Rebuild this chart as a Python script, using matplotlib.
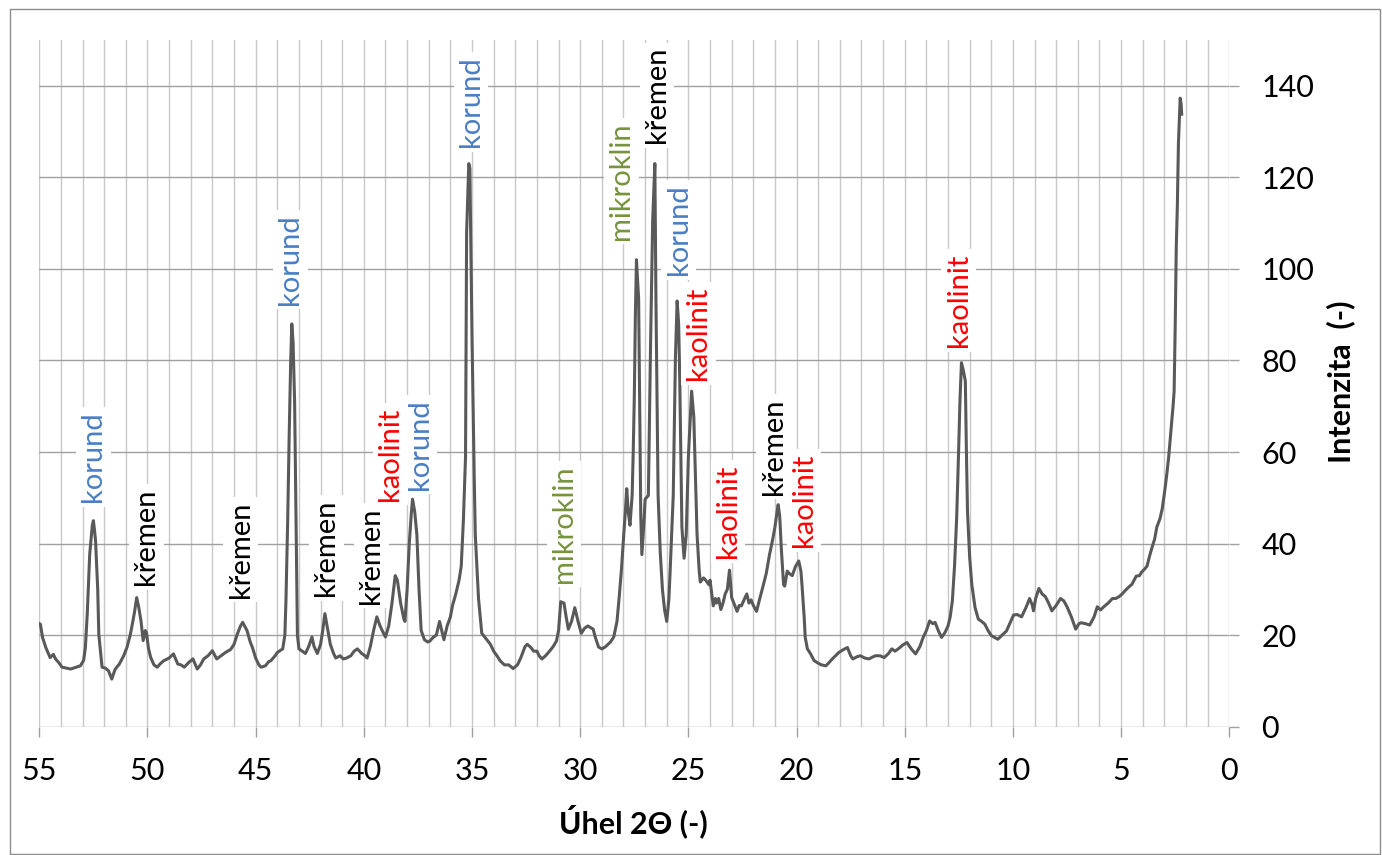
import matplotlib
matplotlib.use("Agg")
import matplotlib.pyplot as plt
from matplotlib.patches import Rectangle
import numpy as np

plt.rcParams['font.family'] = ['Lato', 'DejaVu Sans']

# ---- data: 2-theta (deg) and intensity ----
two_theta = [
    55.0, 54.95, 54.85, 54.7, 54.5, 54.35, 54.25, 54.1, 53.95, 53.75, 53.55, 53.3, 53.1, 52.95, 52.87,
    52.78, 52.67, 52.55, 52.5, 52.45, 52.4, 52.3, 52.25, 52.1, 51.95, 51.8, 51.65, 51.5, 51.3, 51.1,
    50.95, 50.8, 50.7, 50.6, 50.5, 50.4, 50.3, 50.2, 50.1, 50.05, 49.95, 49.85, 49.7, 49.55, 49.4,
    49.25, 49.0, 48.8, 48.6, 48.45, 48.3, 48.1, 47.9, 47.7, 47.55, 47.4, 47.2, 47.0, 46.8, 46.6,
    46.4, 46.15, 46.0, 45.85, 45.7, 45.6, 45.4, 45.25, 45.15, 45.0, 44.85, 44.75, 44.55, 44.4, 44.3,
    44.1, 44.0, 43.75, 43.65, 43.6, 43.52, 43.45, 43.38, 43.33, 43.27, 43.2, 43.12, 43.07, 43.0, 42.85,
    42.7, 42.55, 42.4, 42.3, 42.15, 42.0, 41.9, 41.8, 41.7, 41.55, 41.4, 41.3, 41.1, 40.95, 40.8,
    40.6, 40.45, 40.3, 40.1, 39.95, 39.85, 39.7, 39.55, 39.4, 39.25, 39.1, 39.0, 38.85, 38.7, 38.55,
    38.45, 38.3, 38.15, 38.1, 38.0, 37.9, 37.8, 37.75, 37.65, 37.55, 37.45, 37.35, 37.2, 37.05, 36.95,
    36.8, 36.65, 36.5, 36.4, 36.3, 36.15, 36.0, 35.9, 35.75, 35.6, 35.5, 35.4, 35.3, 35.25, 35.15,
    35.1, 35.0, 34.9, 34.85, 34.7, 34.55, 34.4, 34.15, 34.0, 33.85, 33.7, 33.5, 33.3, 33.1, 32.9,
    32.75, 32.55, 32.45, 32.3, 32.15, 32.0, 31.9, 31.77, 31.6, 31.4, 31.25, 31.1, 31.0, 30.9, 30.75,
    30.65, 30.55, 30.4, 30.25, 30.1, 29.95, 29.8, 29.65, 29.4, 29.3, 29.15, 29.0, 28.85, 28.6, 28.45,
    28.3, 28.2, 28.1, 28.0, 27.9, 27.85, 27.78, 27.7, 27.6, 27.55, 27.5, 27.45, 27.4, 27.3, 27.25,
    27.2, 27.15, 27.05, 27.0, 26.85, 26.75, 26.65, 26.55, 26.5, 26.4, 26.3, 26.2, 26.1, 26.0, 25.9,
    25.85, 25.75, 25.7, 25.6, 25.52, 25.45, 25.4, 25.3, 25.2, 25.1, 25.0, 24.85, 24.75, 24.65, 24.6,
    24.5, 24.45, 24.3, 24.2, 24.05, 24.0, 23.85, 23.75, 23.7, 23.6, 23.5, 23.4, 23.3, 23.2, 23.1,
    23.0, 22.9, 22.75, 22.65, 22.55, 22.4, 22.3, 22.2, 22.1, 22.0, 21.85, 21.7, 21.55, 21.4, 21.25,
    21.1, 21.0, 20.9, 20.85, 20.78, 20.7, 20.6, 20.55, 20.43, 20.35, 20.2, 20.05, 19.9, 19.8, 19.75,
    19.65, 19.6, 19.5, 19.35, 19.2, 19.05, 18.85, 18.65, 18.5, 18.35, 18.2, 18.05, 17.85, 17.65, 17.5,
    17.4, 17.2, 17.05, 16.85, 16.65, 16.5, 16.35, 16.15, 15.95, 15.75, 15.6, 15.45, 15.3, 15.1, 14.9,
    14.7, 14.5, 14.3, 14.15, 14.0, 13.85, 13.7, 13.6, 13.45, 13.3, 13.15, 13.0, 12.9, 12.8, 12.7,
    12.6, 12.5, 12.45, 12.38, 12.3, 12.2, 12.15, 12.1, 12.0, 11.9, 11.75, 11.6, 11.45, 11.3, 11.15,
    11.0, 10.85, 10.7, 10.5, 10.3, 10.15, 9.97, 9.8, 9.6, 9.4, 9.23, 9.1, 9.05, 8.95, 8.8,
    8.65, 8.5, 8.35, 8.2, 8.0, 7.8, 7.65, 7.5, 7.3, 7.1, 6.95, 6.85, 6.65, 6.45, 6.25,
    6.1, 5.95, 5.8, 5.6, 5.4, 5.25, 5.1, 4.95, 4.8, 4.65, 4.5, 4.3, 4.15, 4.05, 3.9,
    3.8, 3.7, 3.6, 3.45, 3.35, 3.2, 3.1, 2.97, 2.88, 2.8, 2.7, 2.6, 2.55, 2.5, 2.45,
    2.42, 2.4, 2.35, 2.3, 2.27, 2.23, 2.2,
]
intensity = [
    22.5, 22.4, 19.5, 17.3, 15.1, 15.8, 14.8, 14.0, 13.0, 12.8, 12.6, 13.0, 13.3, 14.5, 17.3,
    25.0, 37.7, 44.0, 45.0, 43.0, 40.6, 30.0, 20.2, 13.0, 12.8, 12.2, 10.4, 12.5, 13.7, 15.5,
    17.3, 20.0, 22.4, 25.0, 28.2, 26.0, 23.1, 18.8, 21.0, 20.6, 17.0, 15.1, 13.5, 13.0, 13.8,
    14.4, 15.0, 15.9, 13.7, 13.5, 13.0, 14.0, 14.8, 12.6, 13.5, 14.8, 15.5, 16.6, 14.8, 15.5,
    16.2, 16.9, 18.0, 20.2, 22.0, 22.8, 21.0, 18.5, 17.3, 15.0, 13.5, 13.0, 13.3, 14.2, 14.4,
    15.5, 16.2, 17.0, 20.0, 27.5, 45.0, 63.9, 80.0, 88.0, 84.0, 71.0, 40.0, 20.0, 17.0, 16.5,
    16.0, 17.5, 19.6, 17.5, 16.0, 18.0, 21.0, 24.7, 22.0, 18.0, 16.0, 15.0, 15.5, 14.8, 15.0,
    15.5, 16.5, 17.0, 16.0, 15.5, 15.0, 17.5, 21.0, 24.0, 22.0, 20.5, 19.6, 22.0, 27.0, 33.0,
    32.0, 27.0, 23.5, 23.0, 30.0, 40.0, 47.0, 49.7, 47.0, 42.0, 30.0, 21.0, 19.0, 18.5, 18.7,
    19.5, 20.0, 23.0, 21.0, 19.0, 22.0, 24.0, 26.5, 29.0, 32.0, 35.0, 45.0, 59.0, 108.0, 123.0,
    122.0, 85.0, 55.0, 42.0, 28.0, 20.4, 19.5, 18.0, 16.5, 15.5, 14.4, 13.5, 13.5, 12.7, 13.5,
    15.0, 17.5, 18.0, 17.4, 16.5, 16.5, 15.5, 14.8, 15.5, 16.6, 17.5, 18.7, 21.0, 27.3, 27.0,
    24.0, 21.3, 23.0, 26.0, 23.0, 20.4, 21.5, 22.0, 21.3, 19.5, 17.4, 17.0, 17.4, 18.5, 19.6,
    23.0, 28.2, 34.0, 41.0, 48.0, 52.0, 47.0, 44.0, 50.5, 60.0, 72.0, 90.0, 102.0, 93.5, 70.0,
    46.0, 37.6, 45.0, 49.7, 50.5, 83.0, 110.7, 123.0, 93.5, 50.5, 38.0, 30.0, 25.5, 23.0, 28.0,
    33.3, 45.0, 50.5, 80.6, 93.0, 88.0, 76.0, 43.6, 36.8, 42.0, 59.0, 73.3, 67.7, 50.0, 42.0,
    34.0, 31.6, 32.5, 32.0, 31.0, 32.0, 26.4, 28.0, 27.0, 28.0, 25.6, 27.0, 29.0, 30.0, 34.2,
    28.2, 27.0, 25.2, 26.5, 26.4, 28.0, 29.0, 27.0, 27.7, 26.5, 25.2, 28.0, 30.7, 33.5, 37.6,
    41.0, 43.6, 47.0, 48.5, 46.0, 38.5, 31.0, 30.7, 34.0, 33.5, 33.0, 35.0, 36.2, 34.0, 31.0,
    24.0, 19.5, 17.0, 15.9, 14.5, 14.0, 13.5, 13.3, 14.0, 14.8, 15.5, 16.2, 16.8, 17.3, 15.5,
    14.8, 15.3, 15.5, 15.0, 14.8, 15.2, 15.5, 15.5, 15.1, 16.0, 17.0, 16.5, 17.0, 17.8, 18.4,
    17.0, 15.9, 17.5, 19.5, 21.0, 23.1, 22.5, 22.8, 21.0, 19.5, 20.5, 22.0, 24.0, 27.5, 35.0,
    45.7, 62.0, 71.0, 79.5, 78.0, 75.5, 60.0, 47.0, 37.0, 31.0, 26.0, 23.5, 23.0, 22.4, 21.0,
    19.9, 19.5, 19.1, 20.0, 20.9, 22.5, 24.4, 24.5, 24.0, 26.0, 28.0, 26.5, 25.3, 28.0, 30.2,
    29.0, 28.4, 27.0, 25.3, 26.5, 28.0, 27.5, 26.2, 24.0, 21.3, 22.5, 22.7, 22.5, 22.2, 24.0,
    26.2, 25.5, 26.2, 27.0, 28.0, 28.0, 28.4, 29.0, 29.8, 30.5, 31.1, 32.9, 33.0, 33.8, 34.5,
    35.1, 37.0, 38.7, 41.0, 43.6, 45.5, 47.6, 52.0, 55.5, 59.0, 64.4, 70.0, 73.3, 87.6, 105.0,
    110.0, 114.0, 127.6, 134.0, 137.3, 136.0, 133.8,
]

# ---- phase labels ----
label_text = ["korund", "křemen", "křemen", "korund", "křemen", "křemen", "kaolinit", "korund",
              "korund", "mikroklin", "mikroklin", "křemen", "korund", "kaolinit", "kaolinit",
              "křemen", "kaolinit", "kaolinit"]
label_x = [52.5, 50.05, 45.7, 43.4, 41.74, 39.66, 38.78, 37.4,
           35.05, 30.75, 28.1, 26.45, 25.45, 24.55, 23.17,
           21.05, 19.66, 12.5]
label_y = [49.0, 30.9, 28.1, 92.1, 28.5, 26.8, 49.3, 51.7,
           126.6, 31.4, 106.3, 127.4, 98.6, 75.7, 36.8,
           50.6, 39.2, 82.9]
phase_colors = {"korund": "#4a7fc4", "křemen": "#000000",
                "kaolinit": "#ff0000", "mikroklin": "#77933c"}

x_ticks = [55, 50, 45, 40, 35, 30, 25, 20, 15, 10, 5, 0]
y_ticks = [0, 20, 40, 60, 80, 100, 120, 140]

W, H = 1382, 855
fig = plt.figure(figsize=(W / 100, H / 100), dpi=100)
fig.patch.set_facecolor("white")

# outer chart frame
fig.patches.append(Rectangle((10 / W, 1 / H), (1380 - 10) / W, (855 - 9 - 1) / H,
                             transform=fig.transFigure, fill=False,
                             edgecolor="#8c8c8c", linewidth=1.0))

left, right = 39.3 / W, 1229.3 / W
bottom, top = (H - 726.7) / H, (H - 40) / H
ax = fig.add_axes([left, bottom, right - left, top - bottom])

ax.set_xlim(55, 0)
ax.set_ylim(0, 150)

# grid lines
for v in range(0, 56):
    ax.axvline(v, color="#c8c8c8", linewidth=1.0, zorder=0)
for h in y_ticks:
    ax.axhline(h, color="#a0a0a0", linewidth=1.0, zorder=0.5)

ax.plot(two_theta, intensity, color="#595959", linewidth=2.2, zorder=3,
        solid_joinstyle="round")

for s in ax.spines.values():
    s.set_visible(False)

ax.set_xticks(x_ticks)
ax.set_xticklabels([str(t) for t in x_ticks])
ax.set_yticks(y_ticks)
ax.set_yticklabels([str(t) for t in y_ticks])
ax.yaxis.tick_right()
ax.tick_params(axis="x", direction="out", length=7, width=1, color="#a0a0a0",
               labelsize=22, pad=15)
ax.tick_params(axis="y", direction="out", length=7, width=1, color="#a0a0a0",
               labelsize=22, pad=16, left=False, right=True)

for t, xv, yv in zip(label_text, label_x, label_y):
    ax.text(xv, yv, t, rotation=90, ha="center", va="bottom",
            color=phase_colors[t], fontsize=21, zorder=4,
            bbox=dict(boxstyle="square,pad=0.15", facecolor="white", edgecolor="none"))

fig.text(633 / W, 1 - 821 / H, "Úhel 2Θ (-)", ha="center", va="center",
         fontsize=22, fontweight="bold")
fig.text(1341 / W, 1 - 382 / H, "Intenzita  (-)", ha="center", va="center",
         rotation=90, fontsize=22, fontweight="bold")

fig.savefig("out.png", dpi=100, facecolor="white")
